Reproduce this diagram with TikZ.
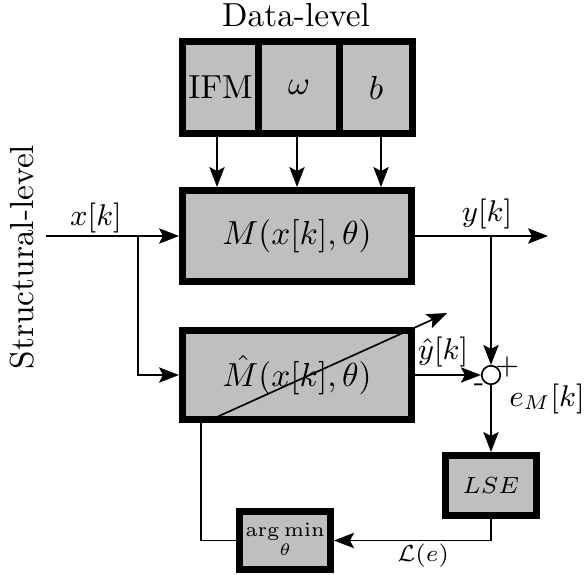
\documentclass[tikz,border=0pt]{standalone}
\usepackage{amsmath}
\usetikzlibrary{arrows.meta}
\begin{document}
\begin{tikzpicture}[x=0.3pt,y=-0.3pt,
  blk/.style={draw,line width=2.1pt,fill=lightgray,inner sep=0pt},
  thin line/.style={line width=0.5pt},
  arr/.style={thin line,-{Stealth[length=6pt,width=4.6pt,inset=1.2pt]}},
  lbl/.style={inner sep=0pt},
  sig/.style={lbl,font=\fontsize{8.8}{10}\selectfont}]
\useasboundingbox (0,0) rectangle (584,575);
% data-level blocks
\node[blk,minimum width=76*0.3pt,minimum height=92*0.3pt] (ifm) at (220.5,87.5) {IFM};
\node[blk,minimum width=81*0.3pt,minimum height=92*0.3pt] (om) at (299,87.5) {$\omega$};
\node[blk,minimum width=73*0.3pt,minimum height=92*0.3pt] (bb) at (376,87.5) {$b$};
% model blocks
\node[blk,minimum width=229*0.3pt,minimum height=91*0.3pt] (M) at (297,236) {$M(x[k],\theta)$};
\node[blk,minimum width=229*0.3pt,minimum height=89*0.3pt] (Mh) at (297,375) {$\hat{M}(x[k],\theta)$};
\node[blk,minimum width=91*0.3pt,minimum height=60*0.3pt] (lse) at (491,485.5) {\fontsize{7.5}{9}\selectfont $LSE$};
\node[blk,minimum width=91*0.3pt,minimum height=58*0.3pt] (amin) at (285,540.5) {\fontsize{5.8}{7}\selectfont $\displaystyle\mathop{\mathrm{arg\,min}}\limits_{\theta}$};
\node[circle,draw,fill=white,thin line,minimum size=18.5*0.3pt,inner sep=0pt] (sum) at (491,375) {};
% coordinates
\coordinate (xin) at (46,236);
\coordinate (xb) at (138,236);
\coordinate (yout) at (548,236);
\coordinate (yb) at (491,236);
\coordinate (fb) at (201,540.5);
\coordinate (d1) at (208,421);
\coordinate (d2) at (447,313);
% connectors
\draw[arr] ([xshift=-3.5*0.3pt]ifm.south) -- ([xshift=-3.5*0.3pt]ifm.south |- M.north);
\draw[arr] ([xshift=-2*0.3pt]om.south) -- ([xshift=-2*0.3pt]om.south |- M.north);
\draw[arr] ([xshift=5*0.3pt]bb.south) -- ([xshift=5*0.3pt]bb.south |- M.north);
\draw[arr] (xin) -- (M.west);
\draw[arr] (xb) |- (Mh.west);
\draw[arr] (M.east) -- (yout);
\draw[arr] (yb) -- (sum.north);
\draw[arr] (Mh.east) -- (sum.west);
\draw[arr] (sum.south) -- (lse.north);
\draw[arr] (lse.south) |- (amin.east);
\draw[thin line] (amin.west) -- (fb) -- (fb |- Mh.south);
\draw[arr] (d1) -- (d2);
% labels
\node[lbl] (tdata) at (296,15) {Data-level};
\node[lbl,rotate=90] (tstruct) at (22,257) {Structural-level};
\node[sig] (lx) at (96,218) {$x[k]$};
\node[sig] (ly) at (487,214) {$y[k]$};
\node[sig] (lyh) at (443,352) {$\hat{y}[k]$};
\node[lbl] (lp) at (507,367) {\small\sffamily +};
\node[lbl] (lm) at (479,388) {\small\sffamily -};
\node[lbl] (le) at (547,399) {\small $e_M[k]$};
\node[lbl] (ll) at (423,556) {\scriptsize $\mathcal{L}(e)$};
\end{tikzpicture}
\end{document}
